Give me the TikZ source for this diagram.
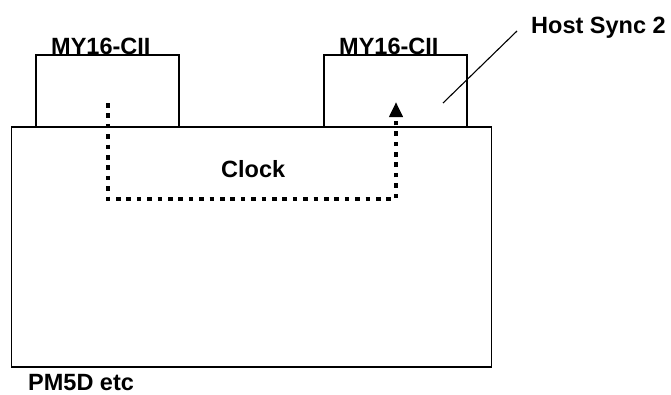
\documentclass[tikz,border=0pt]{standalone}
\usepackage{fontspec}
\setmainfont{Liberation Sans}
\usetikzlibrary{arrows.meta}
\begin{document}
\begin{tikzpicture}[x=1pt,y=-1pt,
  box/.style={draw=black,line width=1.5pt,inner sep=0pt,outer sep=0pt},
  lbl/.style={font=\fontsize{23.5}{26}\selectfont\bfseries,inner sep=0pt,anchor=base west},
  clk/.style={line width=4.6pt,dash pattern=on 4.6pt off 5.8pt,-{Triangle[width=13pt,length=15pt]}},
  lead/.style={line width=1.1pt}]
\useasboundingbox (0,0) rectangle (671,394);
\node[box,minimum width=143pt,minimum height=72pt,anchor=north west] (b1) at (36,55) {};
\node[box,minimum width=143pt,minimum height=72pt,anchor=north west] (b2) at (324,55) {};
\node[box,minimum width=480pt,minimum height=240pt,anchor=north west] (main) at (11.5,127) {};
\node[lbl] (t1) at (51,54) {MY16-CII};
\node[lbl] (t2) at (339,54) {MY16-CII};
\node[lbl] (hs) at (531,33) {Host Sync 2};
\node[lbl] (ck) at (221,177) {Clock};
\node[lbl] (pm) at (28,390.5) {PM5D etc};
\coordinate (cs) at (108,103);
\coordinate (ce) at (396,102);
\coordinate (la) at (443,103);
\coordinate (lb) at (517,31);
\draw[clk] (cs) -- (cs |- 0,199) -- (ce |- 0,199) -- (ce);
\draw[lead] (la) -- (lb);
\end{tikzpicture}
\end{document}
